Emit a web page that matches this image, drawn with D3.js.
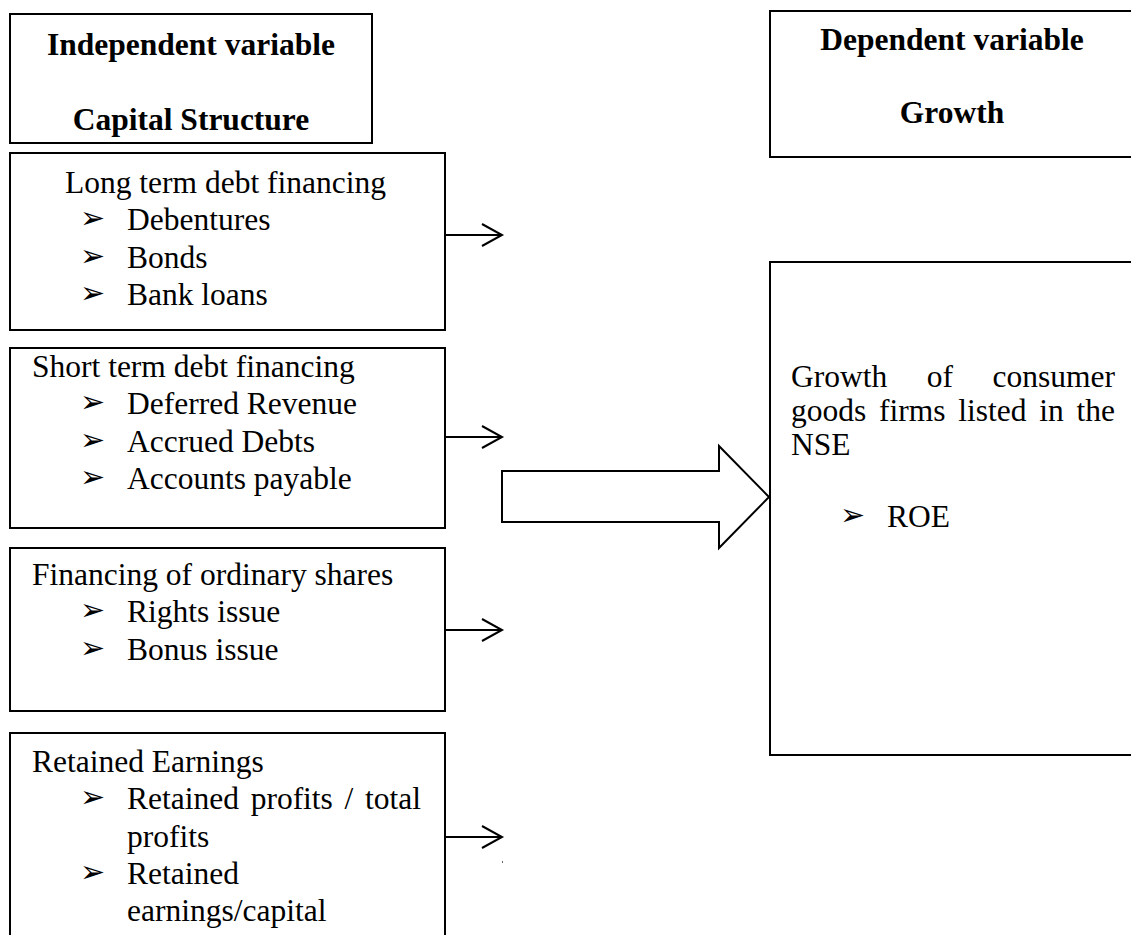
<!DOCTYPE html>
<html>
<head>
<meta charset="utf-8">
<script src="https://cdn.jsdelivr.net/npm/d3@7"></script>
</head>
<body>
<div class="d3"></div>
<script>
// diagram content
const headerLeft = ['Independent variable', 'Capital Structure'];
const headerRight = ['Dependent variable', 'Growth'];
const groupTitles = ['Long term debt financing', 'Short term debt financing', 'Financing of ordinary shares', 'Retained Earnings'];
const groupItems = [
  [['Debentures'], ['Bonds'], ['Bank loans']],
  [['Deferred Revenue'], ['Accrued Debts'], ['Accounts payable']],
  [['Rights issue'], ['Bonus issue']],
  [['Retained profits / total', 'profits'], ['Retained', 'earnings/capital']]
];
const outcomeText = ['Growth of consumer', 'goods firms listed in the', 'NSE'];
const outcomeItems = ['ROE'];

// layout
const boxTop = [153, 348, 548, 733];
const boxBottom = [330, 528, 711, 950];
const titleX = [65, 32, 32, 32];
const titleDy = [40, 29, 37, 39];
const arrowY = [235, 437, 630, 837];

let width = 1131;
let height = 935;
let fs = 31.5;
let lineH = 37.3;

d3.select('body').style('margin', '0px');

let svg = d3.select('.d3').append('svg')
  .attr('width', width)
  .attr('height', height)
  .style('display', 'block');

function label(x, y, str) {
  return svg.append('text')
    .attr('x', x).attr('y', y)
    .attr('font-size', fs)
    .style('font-family', 'Liberation Serif')
    .text(str);
}

function box(x0, y0, x1, y1) {
  svg.append('rect')
    .attr('x', x0).attr('y', y0)
    .attr('width', x1 - x0).attr('height', y1 - y0)
    .attr('fill', 'none')
    .attr('stroke', '#000')
    .attr('stroke-width', 2);
}

// spread words so a line fills [x0, x1]
function justify(str, x0, x1, y) {
  let words = str.split(' ');
  let t = label(null, y, null);
  let spans = words.map(w => t.append('tspan').text(w));
  let widths = spans.map(s => s.node().getComputedTextLength());
  let gap = words.length > 1 ? (x1 - x0 - d3.sum(widths)) / (words.length - 1) : 0;
  let x = x0;
  spans.forEach((s, i) => {
    s.attr('x', x);
    x += widths[i] + gap;
  });
}

function bullet(x, y) {
  svg.append('text')
    .attr('x', x).attr('y', y - 2)
    .attr('font-size', 30)
    .style('font-family', 'DejaVu Sans')
    .text('\u27A2');
}

// header boxes
box(10, 14, 372, 143);
headerLeft.forEach((d, i) => {
  label(191, 55 + i * 75, d).attr('text-anchor', 'middle').attr('font-weight', 'bold');
});

box(770, 11, 1134, 157);
headerRight.forEach((d, i) => {
  label(952, 50 + i * 73, d).attr('text-anchor', 'middle').attr('font-weight', 'bold');
});

// left groups
groupTitles.forEach((title, g) => {
  box(10, boxTop[g], 445, boxBottom[g]);
  let y = boxTop[g] + titleDy[g];
  label(titleX[g], y, title);
  groupItems[g].forEach(item => {
    y += lineH;
    bullet(80, y);
    item.forEach((ln, k) => {
      if (k > 0) y += lineH;
      if (k === 0 && item.length > 1 && ln.indexOf(' ') > 0) {
        justify(ln, 127, 421, y);
      } else {
        label(127, y, ln);
      }
    });
  });

  // connector arrow
  let ay = arrowY[g];
  svg.append('line')
    .attr('x1', 445).attr('x2', 501)
    .attr('y1', ay).attr('y2', ay)
    .attr('stroke', '#000').attr('stroke-width', 2);
  svg.append('path')
    .attr('d', `M${482},${ay - 11}L${502},${ay}L${482},${ay + 11}`)
    .attr('fill', 'none')
    .attr('stroke', '#000')
    .attr('stroke-width', 2);
});

// stray mark under last arrow
svg.append('rect').attr('x', 502).attr('y', 861).attr('width', 1).attr('height', 2).attr('fill', '#666');

// block arrow into outcome box
let block = [[502, 471], [719, 471], [719, 446], [769, 497], [719, 548], [719, 522], [502, 522]];
svg.append('path')
  .attr('d', d3.line()(block) + 'Z')
  .attr('fill', '#fff')
  .attr('stroke', '#000')
  .attr('stroke-width', 2);

// outcome box
box(770, 262, 1140, 755);
outcomeText.forEach((ln, i) => {
  let y = 387 + i * 34;
  if (i < outcomeText.length - 1) justify(ln, 791, 1115, y);
  else label(791, y, ln);
});
outcomeItems.forEach((d, i) => {
  let y = 527 + i * lineH;
  bullet(840, y);
  label(887, y, d);
});
</script>
</body>
</html>
